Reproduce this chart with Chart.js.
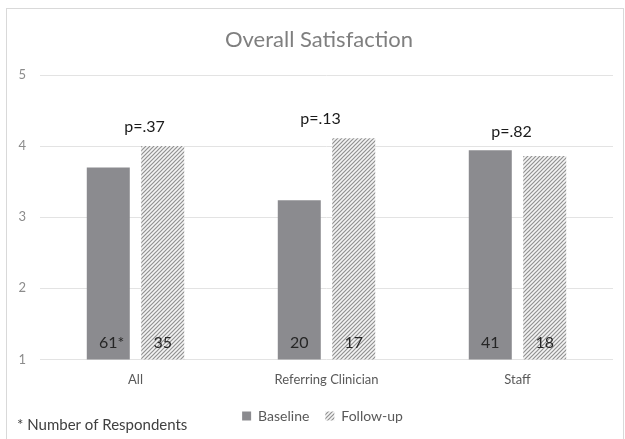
<!DOCTYPE html>
<html>
<head>
<meta charset="utf-8">
<script src="https://cdn.jsdelivr.net/npm/chart.js@4"></script>
<style>
  html, body { margin: 0; padding: 0; background: #ffffff; }
  #wrap { width: 625px; height: 439px; position: relative; }
  canvas { display: block; }
</style>
</head>
<body>
<div id="wrap"><canvas id="chart" width="625" height="439"></canvas></div>
<script>
// Survey groups and mean satisfaction scores (1–5 scale)
const categories = ['All', 'Referring Clinician', 'Staff'];
const baseline = [3.70, 3.24, 3.94];
const followUp = [4.00, 4.11, 3.86];
// Number of respondents per bar
const baselineN = ['61*', '20', '41'];
const followUpN = ['35', '17', '18'];
// p-values comparing baseline with follow-up
const pValues = ['p=.37', 'p=.13', 'p=.82'];
const yTicks = [1, 2, 3, 4, 5];

const FONT = 'Lato, "Open Sans", sans-serif';

// Diagonal hatch fill for the follow-up series
function makeHatch() {
  const c = document.createElement('canvas');
  c.width = 4; c.height = 4;
  const g = c.getContext('2d');
  g.fillStyle = '#f4f4f4';
  g.fillRect(0, 0, 4, 4);
  g.strokeStyle = '#919191';
  g.lineWidth = 1.2;
  g.beginPath();
  g.moveTo(-1, 5); g.lineTo(5, -1);
  g.moveTo(-1, 1); g.lineTo(1, -1);
  g.moveTo(3, 5); g.lineTo(5, 3);
  g.stroke();
  return g.createPattern(c, 'repeat');
}

const hatch = makeHatch();

// Frame, title, annotations and footnote
const annotate = {
  id: 'annotate',
  afterLayout(chart) {
    // legend sits a little right of centre, under the plot area
    if (chart.legend) {
      chart.legend.left += 16;
      chart.legend.right += 16;
    }
  },
  beforeDraw(chart) {
    const ctx = chart.ctx;
    ctx.save();
    ctx.strokeStyle = '#d9d9d9';
    ctx.lineWidth = 1;
    ctx.strokeRect(6.5, 8.5, 617, 440);
    ctx.restore();
  },
  afterDatasetsDraw(chart) {
    const ctx = chart.ctx;
    const x = chart.scales.x, y = chart.scales.y;
    ctx.save();
    // title
    ctx.fillStyle = '#7f7f7f';
    ctx.font = '22px ' + FONT;
    ctx.textAlign = 'center';
    ctx.textBaseline = 'middle';
    ctx.fillText('Overall Satisfaction', 319, 40);

    // p-values above each group (small horizontal nudges for readability)
    const nudge = [9, -6, -6];
    ctx.fillStyle = '#1a1a1a';
    ctx.font = '16px ' + FONT;
    categories.forEach((c, i) => {
      const top = Math.max(baseline[i], followUp[i]);
      ctx.fillText(pValues[i], x.getPixelForValue(i) + nudge[i], y.getPixelForValue(top) - 19);
    });

    // respondent counts at the foot of each bar
    ctx.fillStyle = '#262626';
    const metaB = chart.getDatasetMeta(0).data;
    const metaF = chart.getDatasetMeta(1).data;
    const labelY = y.getPixelForValue(1) - 17;
    const drawCount = (txt, cx) => {
      const digits = txt.replace('*', '');
      const w = ctx.measureText(digits).width;
      ctx.textAlign = 'left';
      ctx.fillText(txt, cx - w / 2, labelY);
    };
    metaB.forEach((bar, i) => drawCount(baselineN[i], bar.x));
    metaF.forEach((bar, i) => drawCount(followUpN[i], bar.x));

    // footnote
    ctx.fillStyle = '#404040';
    ctx.font = '15px ' + FONT;
    ctx.textAlign = 'left';
    ctx.fillText('* Number of Respondents', 17, 425);
    ctx.restore();
  }
};

new Chart(document.getElementById('chart'), {
  type: 'bar',
  data: {
    labels: categories,
    datasets: [
      { label: 'Baseline', data: baseline, backgroundColor: '#8b8b8f', borderWidth: 0 },
      { label: 'Follow-up', data: followUp, backgroundColor: hatch, borderWidth: 0 }
    ]
  },
  options: {
    responsive: false,
    animation: false,
    devicePixelRatio: 1,
    categoryPercentage: 0.57,
    barPercentage: 0.79,
    layout: { padding: { top: 75, left: 0, right: 12, bottom: 6 } },
    plugins: {
      title: { display: false },
      tooltip: { enabled: false },
      legend: {
        position: 'bottom',
        labels: {
          boxWidth: 9,
          boxHeight: 9,
          padding: 16,
          color: '#595959',
          font: { family: FONT, size: 14 }
        }
      }
    },
    scales: {
      x: {
        afterFit(scale) { scale.height = scale.height - 8; },
        grid: { display: false, drawTicks: false },
        border: { display: false },
        ticks: { color: '#595959', font: { family: FONT, size: 13 }, padding: 13 }
      },
      y: {
        min: 1,
        max: 5,
        afterFit(scale) { scale.width = 40; },
        afterBuildTicks(scale) { scale.ticks = yTicks.map(v => ({ value: v })); },
        grid: { color: '#e3e3e3', lineWidth: 1, drawTicks: false },
        border: { display: false },
        ticks: { color: '#8c8c8c', font: { family: FONT, size: 13 }, padding: 14 }
      }
    }
  },
  plugins: [annotate]
});
</script>
</body>
</html>
